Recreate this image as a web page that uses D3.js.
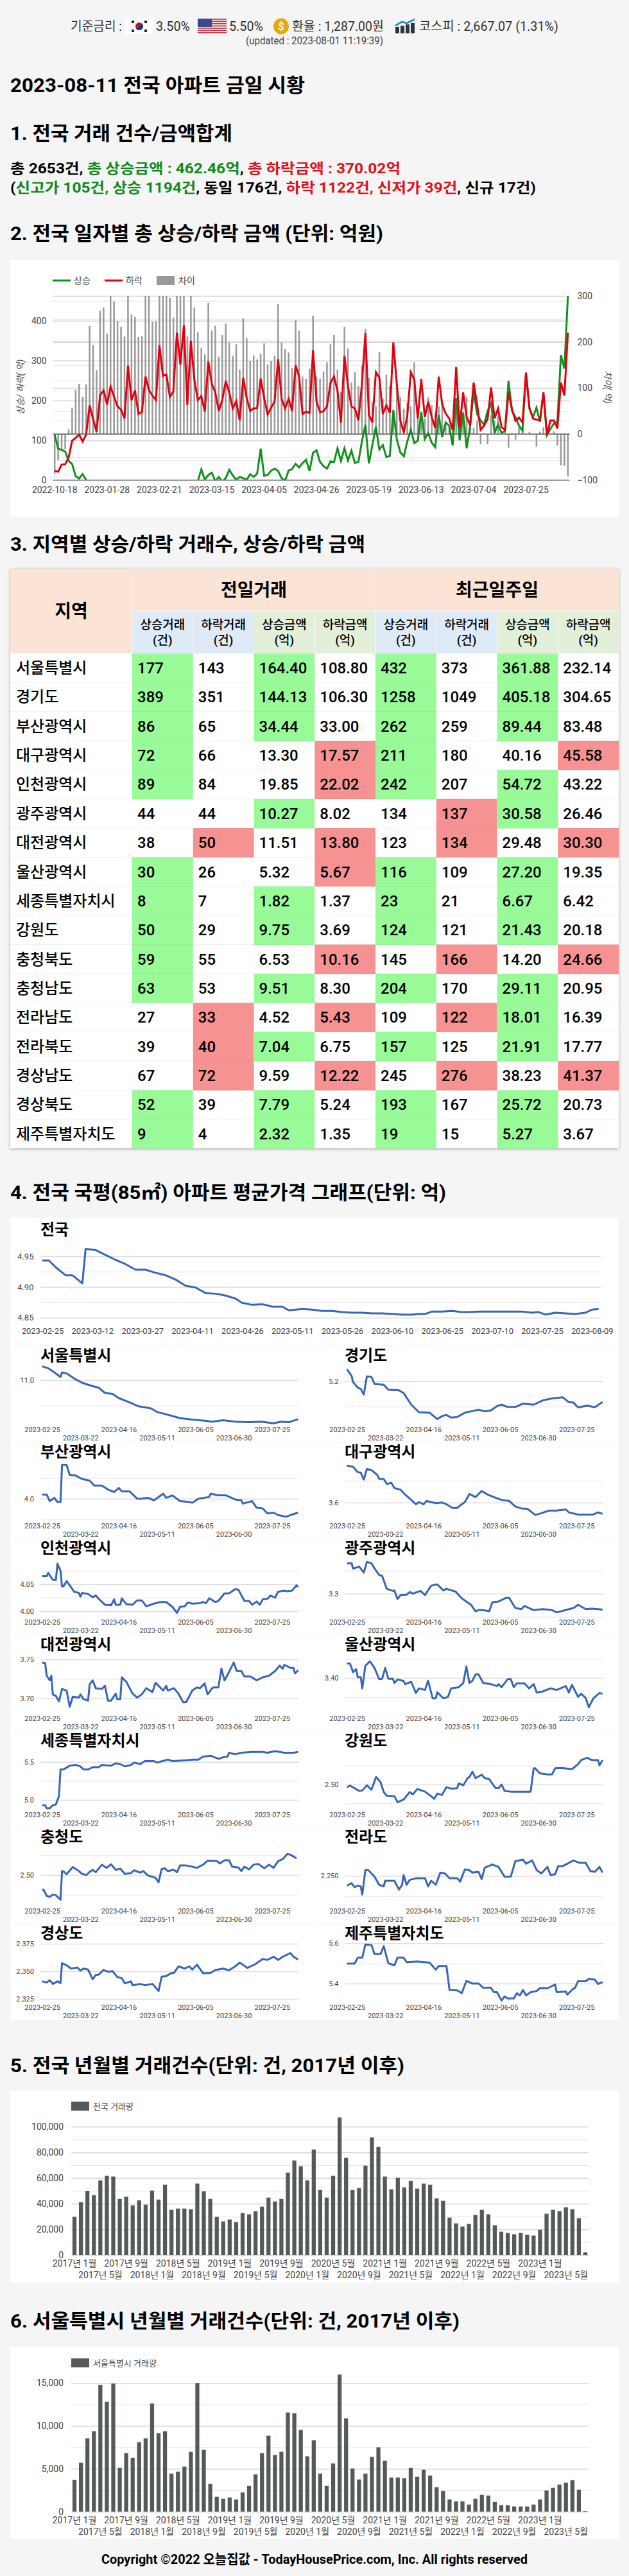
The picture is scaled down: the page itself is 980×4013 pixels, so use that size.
<!DOCTYPE html>
<html>
<head>
<meta charset="utf-8">
<title>오늘집값</title>
<script src="https://cdn.jsdelivr.net/npm/d3@7"></script>
<style>
  html, body { margin: 0; padding: 0; background: #f5f5f5; }
  svg { display: block; }
  text { font-family: Roboto, "Noto Sans CJK KR", sans-serif; }
  .domain { display: none; }
</style>
</head>
<body>
<div id="vis"></div>
<script>
var svg = d3.select("#vis").append("svg").attr("width", 980).attr("height", 4013);
var defs = svg.append("defs");

function label(x, y, str, size, weight, color, anchor, len) {
    var t = svg.append("text").attr("x", x).attr("y", y).attr("dy", "0.35em")
        .attr("text-anchor", anchor || "start")
        .style("font-size", size + "px").style("font-weight", weight || 400)
        .attr("fill", color || "#000").text(str);
    if (len) t.attr("textLength", len).attr("lengthAdjust", "spacingAndGlyphs");
    return t;
}

// ---- top bar
label(110, 41, "기준금리 :", 20, 400, "#333", "start", 80);
var kr = svg.append("g");
kr.append("rect").attr("x", 195).attr("y", 29).attr("width", 44).attr("height", 24).attr("fill", "#fff");
kr.append("circle").attr("cx", 217).attr("cy", 41).attr("r", 6).attr("fill", "#c8102e");
kr.append("path").attr("d", "M211 41a6 6 0 0 0 12 0a3 3 0 0 0-6 0a3 3 0 0 1-6 0z").attr("fill", "#0b3d91");
[[207, 34], [227, 34], [207, 48], [227, 48]].forEach(function(p) {
    kr.append("rect").attr("x", p[0] - 2).attr("y", p[1] - 2).attr("width", 4).attr("height", 4).attr("fill", "#222");
});
label(243, 41, "3.50%", 20, 400, "#333", "start", 53);
var us = svg.append("g");
d3.range(7).forEach(function(i) {
    us.append("rect").attr("x", 308).attr("y", 29 + i * 3.5).attr("width", 45).attr("height", 1.8).attr("fill", "#c0394a");
});
us.append("rect").attr("x", 308).attr("y", 29).attr("width", 22).attr("height", 13).attr("fill", "#3c4a8c");
label(357, 41, "5.50%", 20, 400, "#333", "start", 53);
svg.append("ellipse").attr("cx", 438).attr("cy", 41).attr("rx", 12).attr("ry", 12.5).attr("fill", "#e8a80c");
label(438, 41, "$", 16, 700, "#fff", "middle");
label(455, 41, "환율 : 1,287.00원", 20, 400, "#333", "start", 143);
var up = svg.append("g");
[[616, 42, 10], [624, 40, 12], [632, 38, 14], [640, 36, 16]].forEach(function(p) {
    up.append("rect").attr("x", p[0]).attr("y", p[1]).attr("width", 6).attr("height", p[2]).attr("fill", "#2e3440");
});
up.append("path").attr("d", "M616 40L626 34L634 36L646 30").attr("fill", "none").attr("stroke", "#2f8fc4").attr("stroke-width", 3);
label(653, 41, "코스피 : 2,667.07 (1.31%)", 20, 400, "#333", "start", 217);
label(490, 63, "(updated : 2023-08-01 11:19:39)", 16, 400, "#444", "middle", 214);

// ---- headings
label(16, 132, "2023-08-11 전국 아파트 금일 시황", 30, 700, "#000", "start", 459);
label(16, 207, "1. 전국 거래 건수/금액합계", 30, 700, "#000", "start", 346);
var GREEN = "#118a1b", RED = "#e0101c";
var l1 = label(16, 262, "", 22, 700, "#000", "start", 608);
[["총 2653건, ", "#000"], ["총 상승금액 : 462.46억", GREEN], [", ", "#000"], ["총 하락금액 : 370.02억", RED]].forEach(function(s) {
    l1.append("tspan").attr("fill", s[1]).text(s[0]);
});
var l2 = label(16, 292, "", 22, 700, "#000", "start", 819);
[["(", "#000"], ["신고가 105건, 상승 1194건", GREEN], [", 동일 176건, ", "#000"], ["하락 1122건, 신저가 39건", RED], [", 신규 17건)", "#000"]].forEach(function(s) {
    l2.append("tspan").attr("fill", s[1]).text(s[0]);
});
label(16, 363, "2. 전국 일자별 총 상승/하락 금액 (단위: 억원)", 30, 700, "#000", "start", 581);
label(16, 847, "3. 지역별 상승/하락 거래수, 상승/하락 금액", 30, 700, "#000", "start", 553);
label(16, 1857, "4. 전국 국평(85㎡) 아파트 평균가격 그래프(단위: 억)", 30, 700, "#000", "start", 679);
label(16, 3217, "5. 전국 년월별 거래건수(단위: 건, 2017년 이후)", 30, 700, "#000", "start", 614);
label(16, 3615, "6. 서울특별시 년월별 거래건수(단위: 건, 2017년 이후)", 30, 700, "#000", "start", 700);
label(490, 3987, "Copyright ©2022 오늘집값 - TodayHousePrice.com, Inc. All rights reserved", 21, 700, "#000", "middle", 664);

// ---- section 2: daily up/down totals
var upDaily = [113,79,76,72,48,40,10,4,15,1,
    -20,-20,-20,-20,-20,-20,-20,-20,-20,-20,-20,-20,-20,-20,-20,-20,-20,-20,-20,-20,-20,-20,-20,-20,-20,-20,-20,-20,-20,-20,-20,
    -2,27,1,13,19,-3,8,-3,5,
    26,12,1,8,5,1,15,8,17,79,11,13,24,29,23,5,-1,24,28,41,32,43,51,23,69,75,46,35,29,47,45,80,48,80,49,74,43,46,97,139,42,88,134,77,88,58,61,176,102,70,
    60,97,127,93,99,171,103,118,94,83,164,108,145,137,87,206,100,169,80,134,223,166,150,139,174,193,118,140,118,124,249,174,158,137,124,268,180,158,182,147,220,113,129,142,147,314,280,462];
var downDaily = [24,21,39,40,57,99,106,114,97,114,188,153,121,214,225,190,235,209,185,177,155,287,201,225,166,171,260,226,212,201,339,262,265,209,223,370,290,389,189,350,252,201,211,172,298,242,220,174,201,249,
    220,180,198,150,257,206,174,180,181,255,206,165,182,198,304,204,180,204,174,288,260,166,172,169,326,198,171,173,185,244,260,225,144,312,236,185,180,150,241,369,164,145,271,257,166,188,169,346,241,150,
    119,161,271,253,155,254,158,197,158,131,260,190,167,155,126,284,131,220,158,138,245,190,126,137,153,233,155,180,133,126,220,177,149,157,145,270,180,155,152,150,220,112,150,150,130,245,212,370];
var diffDaily = [-86,-57,-33,-33,10,57,96,109,81,108,235,193,139,268,275,218,300,288,245,233,212,300,260,254,211,213,300,300,243,245,300,300,300,296,253,300,300,300,212,300,275,221,187,173,285,225,235,168,215,240,
    199,170,195,140,251,208,159,171,162,174,197,151,159,170,282,199,185,177,144,247,224,125,120,142,257,125,120,136,156,195,215,140,91,233,186,112,134,104,149,228,122,70,60,178,76,129,105,40,100,80,
    55,68,60,156,34,48,34,80,63,45,60,64,25,15,10,78,15,48,80,20,13,29,-22,2,-22,41,29,40,4,6,-30,2,-12,15,13,-2,5,-2,-27,5,15,-3,1,6,-25,-68,-69,-92];
var dayLabels = {0:"2022-10-18",15:"2023-01-28",30:"2023-02-21",45:"2023-03-15",60:"2023-04-05",75:"2023-04-26",90:"2023-05-19",105:"2023-06-13",120:"2023-07-04",135:"2023-07-25"};

function drawDaily() {
    var g = svg.append("g");
    g.append("rect").attr("x", 16).attr("y", 405).attr("width", 948).attr("height", 400).attr("fill", "#fff");
    var left = 82.5, right = 887.5, top = 461, bottom = 748;
    var x = d3.scaleBand().domain(d3.range(upDaily.length)).range([left, right]);
    var yL = d3.scaleLinear().domain([0, 462.46]).range([bottom, top]);
    var yR = d3.scaleLinear().domain([-100, 300]).range([bottom, top]);
    var w = right - left;

    function grid(axis, pos, vals, color, fmt) {
        var a = g.append("g").attr("transform", "translate(" + pos + ",0)")
            .call(axis.tickValues(vals).tickSize(-w).tickPadding(pos == left ? 10 : 12).tickFormat(fmt));
        a.selectAll("line").attr("stroke", color).attr("stroke-width", 1.5);
        a.selectAll("text").style("font-size", "14px").attr("fill", "#444");
    }
    var none = function() { return ""; };
    grid(d3.axisLeft(yL), left, [50, 150, 250, 350, 450], "#ececec", none);
    grid(d3.axisRight(yR), right, [-50, 50, 150, 250], "#ececec", none);
    grid(d3.axisLeft(yL), left, [100, 200, 300, 400], "#d4d4d4", d3.format("d"));
    grid(d3.axisRight(yR), right, [-100, 100, 200, 300], "#d4d4d4", d3.format("d"));
    g.append("g").attr("transform", "translate(" + left + ",0)").call(d3.axisLeft(yL).tickValues([0]).tickSize(0).tickPadding(10))
        .selectAll("text").style("font-size", "14px").attr("fill", "#444");
    g.append("g").attr("transform", "translate(" + right + ",0)").call(d3.axisRight(yR).tickValues([0]).tickSize(0).tickPadding(12))
        .selectAll("text").style("font-size", "14px").attr("fill", "#444");

    g.selectAll(".diff").data(diffDaily).enter().append("rect")
        .attr("x", function(d, i) { return x(i) + x.bandwidth() / 2 - 1.25; })
        .attr("width", 2.5)
        .attr("y", function(d) { return yR(Math.max(d, 0)); })
        .attr("height", function(d) { return Math.abs(yR(d) - yR(0)); })
        .attr("fill", "#999");

    defs.append("clipPath").attr("id", "dailyClip").append("rect")
        .attr("x", left).attr("y", top - 2).attr("width", w).attr("height", bottom - top + 2);
    var line = d3.line().x(function(d, i) { return x(i) + x.bandwidth() / 2; }).y(function(d) { return yL(d); });
    [[upDaily, "#139020"], [downDaily, "#e3000f"]].forEach(function(s) {
        g.append("path").datum(s[0]).attr("d", line).attr("clip-path", "url(#dailyClip)")
            .attr("fill", "none").attr("stroke", s[1]).attr("stroke-width", 3);
    });
    g.append("line").attr("x1", left).attr("x2", right).attr("y1", yR(0)).attr("y2", yR(0)).attr("stroke", "#555").attr("stroke-width", 1.5);
    g.append("line").attr("x1", left).attr("x2", right).attr("y1", bottom).attr("y2", bottom).attr("stroke", "#888").attr("stroke-width", 1.5);

    var ax = g.append("g").attr("transform", "translate(0," + bottom + ")")
        .call(d3.axisBottom(x).tickValues(Object.keys(dayLabels).map(Number)).tickSize(0).tickPadding(10)
            .tickFormat(function(d) { return dayLabels[d]; }));
    ax.selectAll("text").style("font-size", "14px").attr("fill", "#444");

    // legend
    g.append("rect").attr("x", 82).attr("y", 435.5).attr("width", 28).attr("height", 3).attr("fill", "#139020");
    g.append("text").attr("x", 115).attr("y", 437).attr("dy", "0.35em").style("font-size", "14px").attr("fill", "#444").text("상승");
    g.append("rect").attr("x", 163).attr("y", 435.5).attr("width", 28).attr("height", 3).attr("fill", "#e3000f");
    g.append("text").attr("x", 196).attr("y", 437).attr("dy", "0.35em").style("font-size", "14px").attr("fill", "#444").text("하락");
    g.append("rect").attr("x", 244).attr("y", 430).attr("width", 28).attr("height", 14).attr("fill", "#999");
    g.append("text").attr("x", 278).attr("y", 437).attr("dy", "0.35em").style("font-size", "14px").attr("fill", "#444").text("차이");

    g.append("text").attr("transform", "translate(32,603) rotate(-90)").attr("text-anchor", "middle").attr("dy", "0.35em")
        .style("font-size", "14px").style("font-style", "italic").attr("fill", "#444").text("상승/ 하락( 억)");
    g.append("text").attr("transform", "translate(947,603) rotate(90)").attr("text-anchor", "middle").attr("dy", "0.35em")
        .style("font-size", "14px").style("font-style", "italic").attr("fill", "#444").text("차이( 억)");
}
drawDaily();

// ---- section 3: table
var regions = [
    ["서울특별시","177","143","164.40","108.80","432","373","361.88","232.14"],
    ["경기도","389","351","144.13","106.30","1258","1049","405.18","304.65"],
    ["부산광역시","86","65","34.44","33.00","262","259","89.44","83.48"],
    ["대구광역시","72","66","13.30","17.57","211","180","40.16","45.58"],
    ["인천광역시","89","84","19.85","22.02","242","207","54.72","43.22"],
    ["광주광역시","44","44","10.27","8.02","134","137","30.58","26.46"],
    ["대전광역시","38","50","11.51","13.80","123","134","29.48","30.30"],
    ["울산광역시","30","26","5.32","5.67","116","109","27.20","19.35"],
    ["세종특별자치시","8","7","1.82","1.37","23","21","6.67","6.42"],
    ["강원도","50","29","9.75","3.69","124","121","21.43","20.18"],
    ["충청북도","59","55","6.53","10.16","145","166","14.20","24.66"],
    ["충청남도","63","53","9.51","8.30","204","170","29.11","20.95"],
    ["전라남도","27","33","4.52","5.43","109","122","18.01","16.39"],
    ["전라북도","39","40","7.04","6.75","157","125","21.91","17.77"],
    ["경상남도","67","72","9.59","12.22","245","276","38.23","41.37"],
    ["경상북도","52","39","7.79","5.24","193","167","25.72","20.73"],
    ["제주특별자치도","9","4","2.32","1.35","19","15","5.27","3.67"]
];

function drawTable() {
    var g = svg.append("g");
    var x0 = 16, x1 = 206, cw = (964 - 206) / 8, yH1 = 886, yH2 = 952, yB = 1018, rh = (1789 - 1018) / 17;
    g.append("rect").attr("x", x0).attr("y", yH1).attr("width", 948).attr("height", 1789 - yH1)
        .attr("fill", "#fff").style("filter", "drop-shadow(0 1px 2px rgba(0,0,0,0.35))");
    g.append("rect").attr("x", x0).attr("y", yH1).attr("width", 948).attr("height", yB - yH1).attr("fill", "#fbe4d5");
    g.append("rect").attr("x", x1).attr("y", yH1).attr("width", cw * 4).attr("height", yH2 - yH1).attr("fill", "#fbe4d5").attr("stroke", "#f3f0ec");
    g.append("rect").attr("x", x1 + cw * 4).attr("y", yH1).attr("width", cw * 4).attr("height", yH2 - yH1).attr("fill", "#fbe4d5").attr("stroke", "#f3f0ec");
    var t = function(x, y, s, size, weight, anchor) {
        g.append("text").attr("x", x).attr("y", y).attr("dy", "0.35em").attr("text-anchor", anchor || "middle")
            .style("font-size", size + "px").style("font-weight", weight).attr("fill", "#000").text(s);
    };
    t((x0 + x1) / 2, (yH1 + yB) / 2, "지역", 28, 700);
    t(x1 + cw * 2, (yH1 + yH2) / 2, "전일거래", 28, 700);
    t(x1 + cw * 6, (yH1 + yH2) / 2, "최근일주일", 28, 700);
    var heads = ["상승거래", "하락거래", "상승금액", "하락금액", "상승거래", "하락거래", "상승금액", "하락금액"];
    var units = ["(건)", "(건)", "(억)", "(억)", "(건)", "(건)", "(억)", "(억)"];
    heads.forEach(function(h, i) {
        g.append("rect").attr("x", x1 + cw * i).attr("y", yH2).attr("width", cw).attr("height", yB - yH2)
            .attr("fill", i % 4 < 2 ? "#deeaf6" : "#e2efd9").attr("stroke", "#f5f5f5");
        t(x1 + cw * (i + 0.5), yH2 + 21, h, 19, 500);
        t(x1 + cw * (i + 0.5), yH2 + 45, units[i], 19, 500);
    });
    regions.forEach(function(r, j) {
        var y = yB + rh * j;
        for (var i = 0; i < 8; i++) {
            var me = +r[i + 1], other = +r[i % 2 ? i : i + 2];
            var col = null;
            if (i % 2 == 0 && me > other) col = "#98fb98";
            if (i % 2 == 1 && me > other) col = "#f79292";
            if (col) g.append("rect").attr("x", x1 + cw * i).attr("y", y).attr("width", cw).attr("height", rh + 0.3).attr("fill", col);
        }
        if (j > 0) g.append("line").attr("x1", x0).attr("x2", 964).attr("y1", y).attr("y2", y).attr("stroke", "#000").attr("stroke-opacity", 0.06);
        t(25, y + rh / 2, r[0], 24, 500, "start");
        for (var k = 0; k < 8; k++) t(x1 + cw * k + 8, y + rh / 2, r[k + 1], 24, 500, "start");
    });
}
drawTable();

// ---- section 4: average price lines, [day since 2023-02-25, price]
var priceStart = Date.UTC(2023, 1, 25);
var nation = {name:"전국", pts:[[0,4.943],[2,4.943],[4,4.932],[7,4.919],[9,4.919],[12,4.906],[13,4.962],[16,4.960],[19,4.952],[22,4.944],[25,4.937],[28,4.928],[31,4.928],[34,4.923],[37,4.919],[40,4.912],[43,4.902],[46,4.899],[49,4.890],[52,4.889],[55,4.886],[58,4.881],[60,4.874],[63,4.871],[66,4.872],[69,4.868],[72,4.868],[74,4.862],[78,4.864],[81,4.863],[84,4.861],[87,4.861],[90,4.859],[93,4.858],[96,4.858],[99,4.857],[102,4.857],[105,4.856],[108,4.855],[111,4.855],[113,4.856],[115,4.856],[117,4.860],[120,4.860],[123,4.861],[126,4.859],[128,4.859],[131,4.860],[134,4.860],[137,4.860],[140,4.860],[144,4.860],[147,4.858],[149,4.859],[151,4.855],[154,4.858],[157,4.857],[160,4.856],[163,4.858],[165,4.863],[167,4.864]]};
var panels = [
  {name:"서울특별시", col:0, row:0, fmt:".1f", major:[11], minor:[10.5], cal:[11,53,10.5,93], pts:[[0,11.27],[4,11.23],[8,11.15],[12,11.06],[13,11.15],[16,11.13],[21,11.03],[26,10.95],[31,10.90],[37,10.85],[41,10.75],[46,10.73],[50,10.65],[56,10.58],[63,10.49],[71,10.45],[75,10.38],[84,10.31],[90,10.26],[98,10.23],[106,10.21],[111,10.19],[118,10.22],[126,10.19],[135,10.18],[143,10.19],[151,10.16],[156,10.19],[161,10.18],[167,10.24]]},
  {name:"경기도", col:1, row:0, fmt:".1f", major:[5.2], minor:[5.1], cal:[5.2,54.7,5.1,94], pts:[[0,5.247],[3,5.221],[4,5.196],[7,5.175],[9,5.169],[11,5.147],[13,5.219],[16,5.217],[18,5.189],[24,5.186],[27,5.166],[34,5.164],[37,5.153],[42,5.107],[47,5.077],[54,5.075],[59,5.050],[63,5.064],[65,5.066],[68,5.056],[72,5.058],[77,5.075],[86,5.087],[90,5.081],[94,5.084],[98,5.101],[101,5.107],[105,5.098],[110,5.098],[115,5.111],[122,5.107],[128,5.124],[134,5.132],[141,5.136],[145,5.117],[148,5.115],[151,5.096],[157,5.103],[162,5.097],[167,5.118]]},
  {name:"부산광역시", col:0, row:1, fmt:".1f", major:[4], minor:[4.25,3.75], cal:[4,87.7,4.25,55.7], pts:[[0,4.05],[3,4.05],[5,3.97],[8,4.01],[10,3.96],[12,3.96],[13,4.41],[16,4.41],[18,4.29],[22,4.28],[26,4.24],[31,4.22],[34,4.16],[39,4.16],[43,4.11],[47,4.08],[50,4.13],[52,4.09],[57,4.09],[62,4.00],[64,4.00],[69,4.01],[73,3.98],[79,4.06],[81,4.01],[85,4.04],[90,3.97],[96,3.96],[98,3.95],[102,4.00],[109,4.02],[110,4.06],[115,4.04],[120,4.04],[126,3.99],[130,3.98],[131,3.94],[137,3.97],[140,3.89],[144,3.88],[147,3.82],[151,3.83],[154,3.80],[159,3.78],[162,3.80],[167,3.83]]},
  {name:"대구광역시", col:1, row:1, fmt:".1f", major:[3.6], minor:[3.7], cal:[3.6,93.7,3.7,59.7], pts:[[0,3.769],[4,3.764],[7,3.739],[9,3.737],[11,3.705],[13,3.754],[16,3.749],[20,3.725],[21,3.708],[24,3.708],[26,3.685],[29,3.690],[31,3.666],[35,3.659],[38,3.636],[42,3.612],[45,3.592],[47,3.602],[50,3.592],[52,3.607],[58,3.597],[62,3.600],[65,3.592],[69,3.575],[72,3.575],[75,3.592],[77,3.602],[80,3.639],[84,3.625],[88,3.653],[92,3.636],[97,3.622],[101,3.612],[106,3.607],[110,3.582],[114,3.573],[118,3.571],[123,3.543],[127,3.551],[132,3.563],[137,3.563],[143,3.568],[145,3.555],[151,3.545],[157,3.545],[161,3.545],[164,3.555],[167,3.548]]},
  {name:"인천광역시", col:0, row:2, fmt:".2f", major:[4,4.05], minor:[4.025,4.075], cal:[4,113,4.05,71], pts:[[0,4.065],[3,4.065],[4,4.071],[7,4.058],[9,4.058],[10,4.088],[12,4.075],[13,4.046],[14,4.046],[16,4.056],[18,4.048],[21,4.036],[24,4.034],[25,4.027],[26,4.034],[30,4.032],[33,4.026],[35,4.029],[38,4.020],[41,4.012],[45,4.011],[47,4.022],[48,4.012],[51,4.012],[52,4.024],[55,4.013],[59,4.012],[62,4.020],[65,4.020],[68,4.009],[73,4.014],[77,4.017],[81,4.017],[85,4.008],[88,3.997],[90,4.008],[93,4.009],[95,4.016],[98,4.014],[103,4.015],[105,4.017],[107,4.015],[109,4.024],[113,4.017],[115,4.019],[119,4.033],[122,4.033],[126,4.041],[128,4.040],[132,4.019],[135,4.019],[137,4.012],[140,4.018],[142,4.012],[144,4.022],[147,4.023],[149,4.029],[152,4.025],[154,4.036],[158,4.038],[160,4.037],[163,4.038],[166,4.048],[167,4.045]]},
  {name:"광주광역시", col:1, row:2, fmt:".1f", major:[3.3], minor:[3.4,3.2], cal:[3.3,85.7,3.4,49.7], pts:[[0,3.431],[3,3.432],[4,3.409],[8,3.417],[11,3.391],[13,3.437],[16,3.432],[18,3.409],[21,3.381],[23,3.377],[26,3.321],[30,3.312],[31,3.314],[33,3.277],[35,3.294],[39,3.296],[41,3.307],[43,3.300],[48,3.312],[51,3.294],[55,3.335],[59,3.340],[63,3.314],[65,3.321],[71,3.309],[75,3.280],[79,3.261],[81,3.252],[84,3.224],[86,3.229],[89,3.229],[93,3.224],[95,3.263],[99,3.266],[104,3.282],[106,3.282],[110,3.238],[114,3.233],[116,3.247],[122,3.229],[128,3.233],[134,3.229],[137,3.219],[144,3.231],[148,3.238],[151,3.252],[156,3.233],[160,3.235],[164,3.233],[167,3.231]]},
  {name:"대전광역시", col:0, row:3, fmt:".2f", major:[3.7,3.75], minor:[3.725], cal:[3.75,38,3.7,98.7], pts:[[0,3.746],[2,3.745],[3,3.729],[5,3.723],[6,3.729],[7,3.705],[9,3.703],[11,3.696],[13,3.712],[16,3.710],[18,3.689],[20,3.702],[24,3.701],[25,3.705],[27,3.699],[30,3.697],[31,3.718],[33,3.723],[35,3.713],[39,3.712],[41,3.716],[43,3.697],[45,3.697],[48,3.706],[49,3.699],[51,3.699],[52,3.727],[55,3.721],[59,3.706],[62,3.701],[65,3.705],[68,3.713],[72,3.708],[74,3.720],[79,3.710],[81,3.716],[82,3.710],[86,3.713],[89,3.706],[92,3.695],[94,3.695],[98,3.710],[101,3.714],[103,3.713],[106,3.719],[108,3.705],[111,3.713],[112,3.714],[115,3.714],[117,3.738],[119,3.723],[121,3.730],[125,3.746],[127,3.735],[130,3.735],[132,3.728],[136,3.728],[140,3.723],[144,3.727],[148,3.729],[152,3.735],[155,3.742],[157,3.738],[158,3.743],[162,3.739],[164,3.739],[165,3.732],[167,3.736]]},
  {name:"울산광역시", col:1, row:3, fmt:".2f", major:[3.4], minor:[3.45,3.35], cal:[3.4,67,3.45,37], pts:[[0,3.438],[2,3.437],[4,3.415],[6,3.423],[7,3.402],[9,3.402],[10,3.373],[12,3.432],[15,3.443],[18,3.426],[21,3.397],[23,3.398],[25,3.426],[27,3.398],[30,3.398],[31,3.387],[33,3.396],[37,3.392],[38,3.384],[42,3.390],[45,3.361],[47,3.373],[51,3.369],[53,3.393],[56,3.347],[58,3.347],[59,3.363],[63,3.347],[66,3.351],[68,3.373],[73,3.376],[76,3.387],[78,3.430],[80,3.387],[82,3.393],[84,3.409],[86,3.409],[89,3.387],[94,3.384],[98,3.379],[99,3.384],[101,3.376],[105,3.397],[107,3.397],[109,3.376],[111,3.386],[116,3.386],[119,3.373],[122,3.384],[124,3.362],[128,3.365],[133,3.373],[137,3.369],[143,3.379],[145,3.362],[147,3.382],[151,3.351],[153,3.359],[156,3.348],[158,3.324],[161,3.347],[165,3.361],[167,3.359]]},
  {name:"세종특별자치시", col:0, row:4, fmt:".1f", major:[5,5.5], minor:[5.25], cal:[5.5,47.7,5,107], pts:[[0,4.93],[2,4.93],[3,4.89],[5,4.89],[7,4.93],[9,4.94],[11,5.05],[12,5.40],[14,5.40],[18,5.45],[22,5.46],[25,5.44],[27,5.40],[30,5.40],[33,5.43],[37,5.43],[39,5.46],[45,5.45],[48,5.48],[51,5.47],[54,5.44],[58,5.46],[60,5.49],[64,5.47],[67,5.51],[73,5.51],[75,5.49],[82,5.53],[85,5.51],[94,5.52],[98,5.53],[102,5.53],[105,5.57],[110,5.58],[115,5.54],[118,5.56],[121,5.57],[122,5.62],[126,5.60],[130,5.62],[137,5.63],[144,5.63],[147,5.62],[152,5.64],[158,5.62],[164,5.62],[167,5.63]]},
  {name:"강원도", col:1, row:4, fmt:".2f", major:[2.5], minor:[2.55,2.45], cal:[2.5,83,2.55,53.7], pts:[[0,2.493],[2,2.497],[5,2.490],[8,2.483],[10,2.484],[13,2.498],[16,2.486],[19,2.520],[22,2.506],[24,2.480],[26,2.470],[31,2.469],[33,2.453],[37,2.460],[41,2.480],[43,2.474],[46,2.488],[51,2.481],[54,2.472],[57,2.462],[59,2.476],[62,2.472],[65,2.493],[68,2.489],[72,2.490],[73,2.503],[76,2.498],[79,2.518],[80,2.520],[82,2.534],[84,2.517],[88,2.526],[90,2.517],[93,2.514],[97,2.491],[99,2.490],[101,2.500],[103,2.483],[107,2.481],[120,2.481],[122,2.543],[123,2.543],[126,2.530],[131,2.527],[134,2.527],[136,2.543],[140,2.544],[147,2.541],[151,2.554],[153,2.565],[157,2.571],[160,2.565],[164,2.565],[165,2.551],[167,2.565]]},
  {name:"충청도", col:0, row:5, fmt:".2f", major:[2.5], minor:[2.55,2.45], cal:[2.5,74,2.55,43], pts:[[0,2.463],[1,2.463],[3,2.448],[5,2.445],[7,2.451],[9,2.449],[12,2.438],[13,2.510],[14,2.509],[16,2.502],[20,2.520],[24,2.510],[26,2.503],[29,2.500],[31,2.508],[33,2.513],[35,2.507],[39,2.526],[42,2.518],[45,2.527],[48,2.513],[51,2.516],[54,2.503],[58,2.505],[60,2.512],[64,2.506],[66,2.510],[69,2.499],[74,2.493],[76,2.482],[78,2.515],[80,2.517],[82,2.510],[86,2.513],[88,2.507],[90,2.524],[94,2.524],[98,2.521],[101,2.518],[105,2.526],[108,2.536],[114,2.535],[116,2.529],[119,2.537],[122,2.537],[124,2.521],[128,2.519],[130,2.510],[132,2.521],[135,2.514],[138,2.526],[141,2.528],[145,2.517],[148,2.526],[151,2.518],[154,2.535],[157,2.540],[160,2.553],[162,2.551],[166,2.542]]},
  {name:"전라도", col:1, row:5, fmt:".3f", major:[2.25], minor:[2.225], cal:[2.25,75.3,2.275,43.7], pts:[[0,2.238],[3,2.241],[5,2.236],[7,2.238],[9,2.237],[10,2.227],[12,2.257],[14,2.257],[18,2.249],[21,2.239],[24,2.237],[25,2.244],[27,2.244],[31,2.244],[34,2.233],[36,2.239],[37,2.251],[39,2.239],[41,2.245],[45,2.247],[51,2.247],[53,2.237],[55,2.244],[58,2.239],[61,2.254],[64,2.253],[67,2.247],[72,2.247],[74,2.243],[77,2.258],[80,2.257],[82,2.254],[86,2.255],[88,2.246],[90,2.260],[95,2.264],[99,2.261],[103,2.249],[107,2.249],[110,2.268],[115,2.270],[117,2.265],[121,2.269],[124,2.257],[127,2.253],[131,2.261],[133,2.251],[136,2.252],[138,2.262],[141,2.262],[144,2.265],[148,2.269],[152,2.266],[156,2.266],[159,2.256],[162,2.255],[165,2.261],[167,2.254]]},
  {name:"경상도", col:0, row:6, fmt:".3f", major:[2.325,2.35,2.375], minor:[], cal:[2.375,31,2.325,117], pts:[[0,2.3409],[3,2.3399],[5,2.3419],[7,2.3386],[10,2.3409],[12,2.3393],[13,2.3574],[16,2.3554],[19,2.3525],[23,2.3535],[25,2.3506],[27,2.3525],[30,2.3516],[33,2.3428],[35,2.3467],[37,2.3471],[40,2.3512],[43,2.3496],[46,2.3502],[49,2.3448],[52,2.3438],[54,2.3390],[58,2.3409],[59,2.3374],[64,2.3386],[67,2.3374],[72,2.3386],[76,2.3322],[78,2.3452],[81,2.3457],[84,2.3483],[86,2.3486],[89,2.3545],[93,2.3525],[96,2.3545],[98,2.3516],[101,2.3560],[105,2.3483],[110,2.3486],[113,2.3512],[118,2.3525],[122,2.3510],[126,2.3545],[129,2.3579],[134,2.3531],[139,2.3564],[144,2.3612],[147,2.3603],[151,2.3632],[154,2.3603],[157,2.3632],[162,2.3665],[164,2.3632],[167,2.3607]]},
  {name:"제주특별자치도", col:1, row:6, fmt:".1f", major:[5.4,5.6], minor:[5.5], cal:[5.6,30.3,5.4,93], pts:[[0,5.499],[5,5.499],[7,5.528],[10,5.528],[12,5.594],[16,5.591],[18,5.547],[22,5.547],[24,5.586],[27,5.501],[31,5.490],[33,5.528],[37,5.528],[39,5.506],[46,5.509],[54,5.504],[58,5.469],[60,5.487],[65,5.487],[67,5.368],[72,5.366],[75,5.352],[78,5.413],[82,5.400],[86,5.400],[89,5.379],[94,5.379],[96,5.357],[98,5.357],[101,5.315],[103,5.336],[105,5.326],[109,5.326],[111,5.352],[113,5.341],[115,5.368],[117,5.341],[120,5.357],[124,5.363],[126,5.377],[131,5.376],[136,5.395],[137,5.357],[143,5.360],[144,5.345],[147,5.368],[149,5.379],[151,5.411],[156,5.411],[158,5.423],[162,5.419],[164,5.398],[167,5.407]]}
];
var BLUE = "#3766b6";

function dayText(d) {
    return d3.utcFormat("%Y-%m-%d")(d3.utcDay.offset(new Date(priceStart), d));
}

function drawPrice(p, px, py, pw, ph, gridL, gridR, lineL, lineR, titleY, fontY, yFmtPad) {
    var g = svg.append("g").attr("transform", "translate(" + px + "," + py + ")");
    g.append("rect").attr("width", pw).attr("height", ph).attr("fill", "#fff").attr("stroke", "#f8f8f8");
    g.append("text").attr("x", 47).attr("y", titleY).attr("dy", "0.35em").style("font-size", "24px").style("font-weight", 700).text(p.name);
    var y = d3.scaleLinear().domain([p.cal[0], p.cal[2]]).range([p.cal[1], p.cal[3]]);
    var x = d3.scaleLinear().domain([0, 167]).range([lineL - px, lineR - px]);
    var gw = gridR - gridL;
    var gx = gridL - px;
    var mn = g.append("g").attr("transform", "translate(" + gx + ",0)")
        .call(d3.axisLeft(y).tickValues(p.minor).tickSizeInner(-gw).tickSizeOuter(0).tickFormat(function() { return ""; }));
    mn.selectAll("line").attr("stroke", "#efefef").attr("stroke-width", 1.5);
    var mj = g.append("g").attr("transform", "translate(" + gx + ",0)")
        .call(d3.axisLeft(y).tickValues(p.major).tickSizeInner(-gw).tickSizeOuter(0).tickPadding(yFmtPad).tickFormat(d3.format(p.fmt)));
    mj.selectAll("line").attr("stroke", "#dedede").attr("stroke-width", 1.5);
    mj.selectAll("text").style("font-size", fontY + "px").attr("fill", "#444");
    g.append("path").datum(p.pts)
        .attr("d", d3.line().x(function(d) { return x(d[0]); }).y(function(d) { return y(d[1]); }))
        .attr("fill", "none").attr("stroke", BLUE).attr("stroke-width", 3).attr("stroke-linejoin", "round");
    return {g: g, x: x};
}

(function() {
    var big = drawPrice(Object.assign({major:[4.85,4.9,4.95], minor:[4.875,4.925], cal:[4.95,60,4.85,155.7], fmt:".2f"}, nation),
        16, 1897, 948, 200, 63, 936, 66, 932.7, 19, 13, 10.5);
    var ax = big.g.append("g").attr("transform", "translate(0,0)")
        .call(d3.axisBottom(big.x).tickValues(d3.range(0, 166, 15)).tickSize(0).tickFormat(dayText));
    ax.selectAll("text").attr("y", 176).attr("dy", "0.35em").style("font-size", "13px").attr("fill", "#444");

    panels.forEach(function(p) {
        var px = p.col == 0 ? 16 : 490;
        var py = 2097 + p.row * 150;
        var gridL = p.col == 0 ? 63 : 537.5;
        var gridR = p.col == 0 ? 465.6 : 940;
        var lineL = p.col == 0 ? 65.6 : 540.6;
        var lineR = p.col == 0 ? 464.4 : 938.8;
        var r = drawPrice(p, px, py, 474, 150, gridL, gridR, lineL, lineR, 15, 11, 10);
        var a = r.g.append("g")
            .call(d3.axisBottom(r.x).tickValues(d3.range(0, 151, 25)).tickSize(0).tickFormat(dayText));
        a.selectAll("text").attr("y", function(d, i) { return i % 2 ? 143 : 130; })
            .attr("dy", "0.35em").style("font-size", "11px").attr("fill", "#444");
    });
})();

// ---- sections 5, 6: monthly counts from 2017-01
var nationMonthly = [29700,41200,50000,46700,58200,61700,61200,43700,45500,38700,42700,39200,
    50200,43200,54700,35200,36200,36200,35700,55700,49700,43700,29700,26200,
    27700,25700,32700,31700,34200,37700,44700,41700,43700,64200,73700,69200,
    58200,82200,50700,44700,61700,107200,75700,50700,52200,69700,91700,84200,
    61200,51200,60200,52700,57700,51700,55700,54700,44200,42200,29200,24700,
    22200,24200,31200,35200,31700,23200,18200,17200,16200,17200,15700,15200,
    19700,32200,35200,34200,37200,35700,28700,2200];
var seoulMonthly = [3700,5700,8550,9375,14775,12800,14925,5100,6825,6275,8100,8550,
    12600,9150,9375,4425,4650,5250,6975,15000,7200,3225,1725,1500,
    1650,1425,2250,3000,4350,6825,8850,6600,6975,11550,11475,9525,
    6450,8325,4425,3000,5625,15975,10875,5025,3750,4425,6375,7500,
    5925,3975,3975,3900,5100,4050,4875,4200,2850,2400,1425,1200,
    1200,825,1500,1950,1875,1125,750,750,600,600,600,825,
    1425,2475,2775,3150,3375,3675,2550,50];

function drawMonthly(data, name, panelY, y0, yTop, topVal, major, minor, legendY) {
    var g = svg.append("g");
    g.append("rect").attr("x", 16).attr("y", panelY).attr("width", 948).attr("height", 299).attr("fill", "#fff");
    var left = 111, right = 917;
    var months = data.map(function(d, i) { return (2017 + Math.floor(i / 12)) + "년 " + (i % 12 + 1) + "월"; });
    var x = d3.scaleBand().domain(months).range([left, right]).paddingInner(0.38).paddingOuter(0.19);
    var y = d3.scaleLinear().domain([0, topVal]).range([y0, yTop]);
    var mn = g.append("g").attr("transform", "translate(" + left + ",0)")
        .call(d3.axisLeft(y).tickValues(minor).tickSize(-(right - left)).tickFormat(function() { return ""; }));
    mn.selectAll("line").attr("stroke", "#ececec").attr("stroke-width", 1.5);
    var mj = g.append("g").attr("transform", "translate(" + left + ",0)")
        .call(d3.axisLeft(y).tickValues(major).tickSize(-(right - left)).tickPadding(12).tickFormat(d3.format(",")));
    mj.selectAll("line").attr("stroke", "#d4d4d4").attr("stroke-width", 1.5);
    mj.selectAll("text").style("font-size", "14px").attr("fill", "#444");
    g.selectAll(".bar").data(data).enter().append("rect")
        .attr("x", function(d, i) { return x(months[i]); })
        .attr("width", x.bandwidth())
        .attr("y", function(d) { return y(d); })
        .attr("height", function(d) { return y0 - y(d); })
        .attr("fill", "#545a5b");
    var ax = g.append("g").attr("transform", "translate(0," + y0 + ")")
        .call(d3.axisBottom(x).tickValues(months.filter(function(m, i) { return i % 4 == 0; })).tickSize(0));
    ax.selectAll("text").attr("y", function(d, i) { return i % 2 ? 31 : 13; }).attr("dy", "0.35em")
        .style("font-size", "14px").attr("fill", "#444");
    g.append("rect").attr("x", 111).attr("y", legendY - 7).attr("width", 28).attr("height", 14).attr("fill", "#545a5b");
    g.append("text").attr("x", 145).attr("y", legendY).attr("dy", "0.35em").style("font-size", "13px").attr("fill", "#444").text(name);
}
drawMonthly(nationMonthly, "전국 거래량", 3257, 3513, 3313, 100000, [0,20000,40000,60000,80000,100000], [10000,30000,50000,70000,90000], 3281);
drawMonthly(seoulMonthly, "서울특별시 거래량", 3656, 3912.7, 3712.3, 15000, [0,5000,10000,15000], [2500,7500,12500], 3681);
svg.selectAll(".tick text").filter(function() { return d3.select(this).text() == ""; }).remove();
</script>
</body>
</html>
